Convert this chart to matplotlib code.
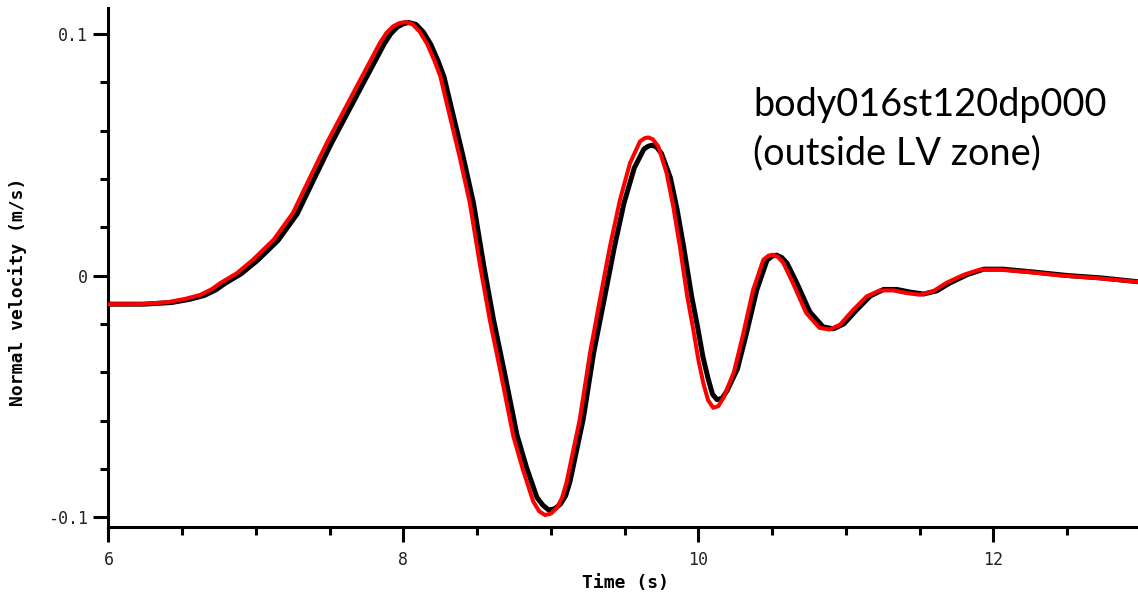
import numpy as np
import matplotlib
matplotlib.use("Agg")
import matplotlib.pyplot as plt
from matplotlib.ticker import MultipleLocator, FixedLocator, FuncFormatter

# ===== data: normal velocity traces =====
# reference trace (black)
t_black = [6.00, 6.24, 6.43, 6.55, 6.65, 6.73, 6.79, 6.90, 7.01, 7.15, 7.28, 7.40,
           7.51, 7.64, 7.74, 7.87, 7.915, 7.96, 8.00, 8.035, 8.085, 8.135, 8.185,
           8.235, 8.275, 8.34, 8.405, 8.475, 8.545, 8.61, 8.68, 8.77, 8.835, 8.905,
           8.945, 8.985, 9.025, 9.065, 9.10, 9.13, 9.22, 9.29, 9.365, 9.43, 9.495,
           9.565, 9.63, 9.66, 9.685, 9.715, 9.75, 9.81, 9.855, 9.90, 9.954, 9.995,
           10.03, 10.065, 10.095, 10.125, 10.16, 10.195, 10.265, 10.325, 10.395,
           10.465, 10.50, 10.53, 10.565, 10.60, 10.665, 10.755, 10.845, 10.915,
           10.985, 11.075, 11.165, 11.255, 11.345, 11.435, 11.525, 11.615, 11.705,
           11.825, 11.935, 12.065, 12.275, 12.495, 12.725, 12.98]
v_black = [-0.0118, -0.0118, -0.0111, -0.0098, -0.0082, -0.0058, -0.0032, 0.0008,
           0.0063, 0.0146, 0.0256, 0.0408, 0.0546, 0.0696, 0.0811, 0.0960, 0.1002,
           0.1030, 0.1043, 0.1048, 0.1040, 0.1008, 0.0958, 0.0888, 0.0823, 0.0657,
           0.0492, 0.0300, 0.0040, -0.0180, -0.0386, -0.0660, -0.0795, -0.0918,
           -0.0950, -0.0970, -0.0965, -0.0945, -0.0910, -0.0850, -0.0590, -0.0318,
           -0.0086, 0.0118, 0.0300, 0.0446, 0.0524, 0.0536, 0.0540, 0.0533, 0.0505,
           0.0405, 0.0275, 0.0118, -0.0086, -0.0215, -0.0335, -0.0425, -0.0490,
           -0.0513, -0.0508, -0.0475, -0.0385, -0.0240, -0.0060, 0.0064, 0.0081,
           0.0085, 0.0075, 0.0052, -0.0028, -0.0150, -0.0212, -0.0220, -0.0200,
           -0.0140, -0.0084, -0.0057, -0.0057, -0.0068, -0.0076, -0.0063, -0.0030,
           0.0005, 0.0027, 0.0027, 0.0015, 0.0001, -0.0009, -0.0025]

# model trace (red)
t_red = [6.00, 6.21, 6.40, 6.52, 6.62, 6.70, 6.76, 6.87, 6.98, 7.12, 7.25, 7.37,
         7.48, 7.61, 7.71, 7.84, 7.885, 7.93, 7.97, 8.01, 8.06, 8.11, 8.16, 8.21,
         8.25, 8.315, 8.38, 8.45, 8.52, 8.585, 8.655, 8.745, 8.81, 8.88, 8.92, 8.96,
         9.00, 9.04, 9.075, 9.105, 9.195, 9.265, 9.336, 9.40, 9.468, 9.536, 9.604,
         9.635, 9.66, 9.69, 9.728, 9.784, 9.829, 9.874, 9.924, 9.965, 10.00,
         10.033, 10.065, 10.10, 10.135, 10.17, 10.24, 10.30, 10.37, 10.44, 10.475,
         10.505, 10.54, 10.575, 10.64, 10.73, 10.82, 10.89, 10.96, 11.05, 11.14,
         11.23, 11.32, 11.41, 11.50, 11.59, 11.68, 11.80, 11.91, 12.04, 12.25,
         12.47, 12.70, 12.98]
v_red = [-0.0118, -0.0118, -0.0110, -0.0096, -0.0080, -0.0056, -0.0030, 0.0010,
         0.0066, 0.0149, 0.0259, 0.0411, 0.0549, 0.0699, 0.0814, 0.0963, 0.1005,
         0.1032, 0.1045, 0.1050, 0.1042, 0.1010, 0.0960, 0.0890, 0.0825, 0.0659,
         0.0494, 0.0301, 0.0040, -0.0182, -0.0389, -0.0665, -0.0803, -0.0935,
         -0.0975, -0.0991, -0.0985, -0.0961, -0.0920, -0.0858, -0.0596, -0.0320,
         -0.0086, 0.0121, 0.0314, 0.0466, 0.0556, 0.0569, 0.0572, 0.0565, 0.0535,
         0.0425, 0.0287, 0.0121, -0.0086, -0.0223, -0.0350, -0.0445, -0.0515,
         -0.0547, -0.0540, -0.0505, -0.0400, -0.0250, -0.0060, 0.0066, 0.0083,
         0.0087, 0.0077, 0.0053, -0.0030, -0.0154, -0.0216, -0.0223, -0.0203,
         -0.0141, -0.0086, -0.0061, -0.0061, -0.0072, -0.0079, -0.0065, -0.0030,
         0.0004, 0.0025, 0.0025, 0.0014, 0.0000, -0.0010, -0.0026]

x_major = [6, 8, 10, 12]
y_major = [-0.1, 0.0, 0.1]
y_labels = ["-0.1", "0", "0.1"]
station = "body016st120dp000\n(outside LV zone)"

# ===== figure =====
fig = plt.figure(figsize=(11.38, 5.97), dpi=100)
ax = fig.add_axes([0.0953, 0.1178, 0.9047, 0.8688])

ax.plot(t_black, v_black, color="black", lw=3.6, solid_joinstyle="round", zorder=2)
ax.plot(t_red, v_red, color="#ff0000", lw=2.9, solid_joinstyle="round", zorder=3)

ax.set_xlim(6, 12.98)
ax.set_ylim(-0.1039, 0.1108)

for side in ["top", "right"]:
    ax.spines[side].set_visible(False)
for side in ["left", "bottom"]:
    ax.spines[side].set_linewidth(2.2)
    ax.spines[side].set_color("black")

ax.xaxis.set_major_locator(FixedLocator(x_major))
ax.xaxis.set_minor_locator(MultipleLocator(0.5))
ax.yaxis.set_major_locator(FixedLocator(y_major))
ax.yaxis.set_minor_locator(MultipleLocator(0.02))
ax.yaxis.set_major_formatter(FuncFormatter(lambda v, p: y_labels[y_major.index(round(v, 1))]
                                           if round(v, 1) in y_major else ""))

ax.tick_params(axis="both", which="major", direction="out", length=10.8, width=2.2,
               color="black", labelsize=12, labelcolor="#222222")
ax.tick_params(axis="both", which="minor", direction="out", length=6, width=2.2,
               color="black")
ax.tick_params(axis="x", which="major", pad=7)
ax.tick_params(axis="y", which="major", pad=4)
for lab in ax.get_xticklabels() + ax.get_yticklabels():
    lab.set_family("DejaVu Sans Mono")

# axis titles
fig.text(626 / 1138, 1 - 583 / 597, "Time (s)", ha="center", va="center",
         family="DejaVu Sans Mono", fontweight="bold", fontsize=13)
fig.text(18 / 1138, 1 - 292 / 597, "Normal velocity (m/s)", ha="center", va="center",
         rotation=90, family="DejaVu Sans Mono", fontweight="bold", fontsize=13)

# station annotation
ax.text(753 / 1138, 1 - 129 / 597, station, transform=fig.transFigure,
        ha="left", va="center", family="Lato", fontsize=27.3, linespacing=1.4)

fig.savefig("out.png", dpi=100)
